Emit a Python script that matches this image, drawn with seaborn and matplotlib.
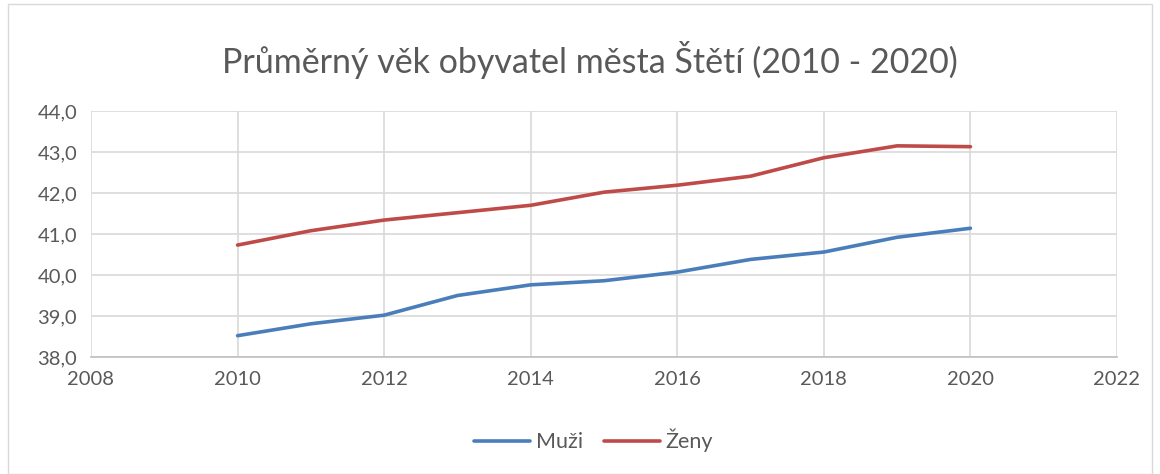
import numpy as np
import pandas as pd
import matplotlib.pyplot as plt
import seaborn as sns
from matplotlib.ticker import FuncFormatter, MultipleLocator
from matplotlib.patches import Rectangle

years = [2010, 2011, 2012, 2013, 2014, 2015, 2016, 2017, 2018, 2019, 2020]
muzi = [38.52, 38.81, 39.02, 39.50, 39.76, 39.86, 40.07, 40.38, 40.56, 40.92, 41.14]
zeny = [40.73, 41.08, 41.34, 41.52, 41.70, 42.02, 42.19, 42.41, 42.86, 43.15, 43.13]
series_names = ["Muži", "Ženy"]
colors = ["#4a7ebb", "#be4b48"]

TEXT = "#595959"
GRID = "#d9d9d9"

df = pd.DataFrame({
    "rok": years * 2,
    "vek": muzi + zeny,
    "pohlavi": [series_names[0]] * len(years) + [series_names[1]] * len(years),
})

sns.set_theme(style="white")
plt.rcParams["font.family"] = ["Lato", "DejaVu Sans"]

fig = plt.figure(figsize=(11.6, 4.74), dpi=100)
ax = fig.add_axes([91 / 1160, 1 - 357 / 474, (1117 - 91) / 1160, (357 - 111) / 474])

sns.lineplot(data=df, x="rok", y="vek", hue="pohlavi", palette=colors,
             linewidth=2.6, ax=ax, legend=True)

ax.set_xlim(2008, 2022)
ax.set_ylim(38, 44)
ax.xaxis.set_major_locator(MultipleLocator(2))
ax.yaxis.set_major_locator(MultipleLocator(1))
ax.yaxis.set_major_formatter(FuncFormatter(lambda v, p: f"{v:.1f}".replace(".", ",")))
ax.grid(True, color=GRID, linewidth=1.2)
ax.set_axisbelow(True)
for side in ["top", "left", "right"]:
    ax.spines[side].set_visible(False)
ax.spines["bottom"].set_color("#bfbfbf")
ax.spines["bottom"].set_linewidth(1.2)
ax.tick_params(axis="both", colors=TEXT, labelsize=14.5, length=0, pad=10)
ax.tick_params(axis="y", pad=10)
ax.set_xlabel("")
ax.set_ylabel("")

handles, labels = ax.get_legend_handles_labels()
ax.legend(handles, labels, loc="center", bbox_to_anchor=(0.49, -0.34), ncol=2,
          frameon=False, fontsize=15.5, labelcolor=TEXT, handlelength=2.6,
          columnspacing=1.0, handletextpad=0.25)

fig.text(590 / 1160, 1 - 60 / 474, "Průměrný věk obyvatel města Štětí (2010 - 2020)",
         ha="center", va="center", fontsize=24.5, color=TEXT)

fig.patches.append(Rectangle((8 / 1160, 0.0), 1144 / 1160, 1 - 4 / 474,
                             transform=fig.transFigure, fill=False,
                             edgecolor="#d9d9d9", linewidth=1.0))

fig.savefig("out.png", dpi=100)
